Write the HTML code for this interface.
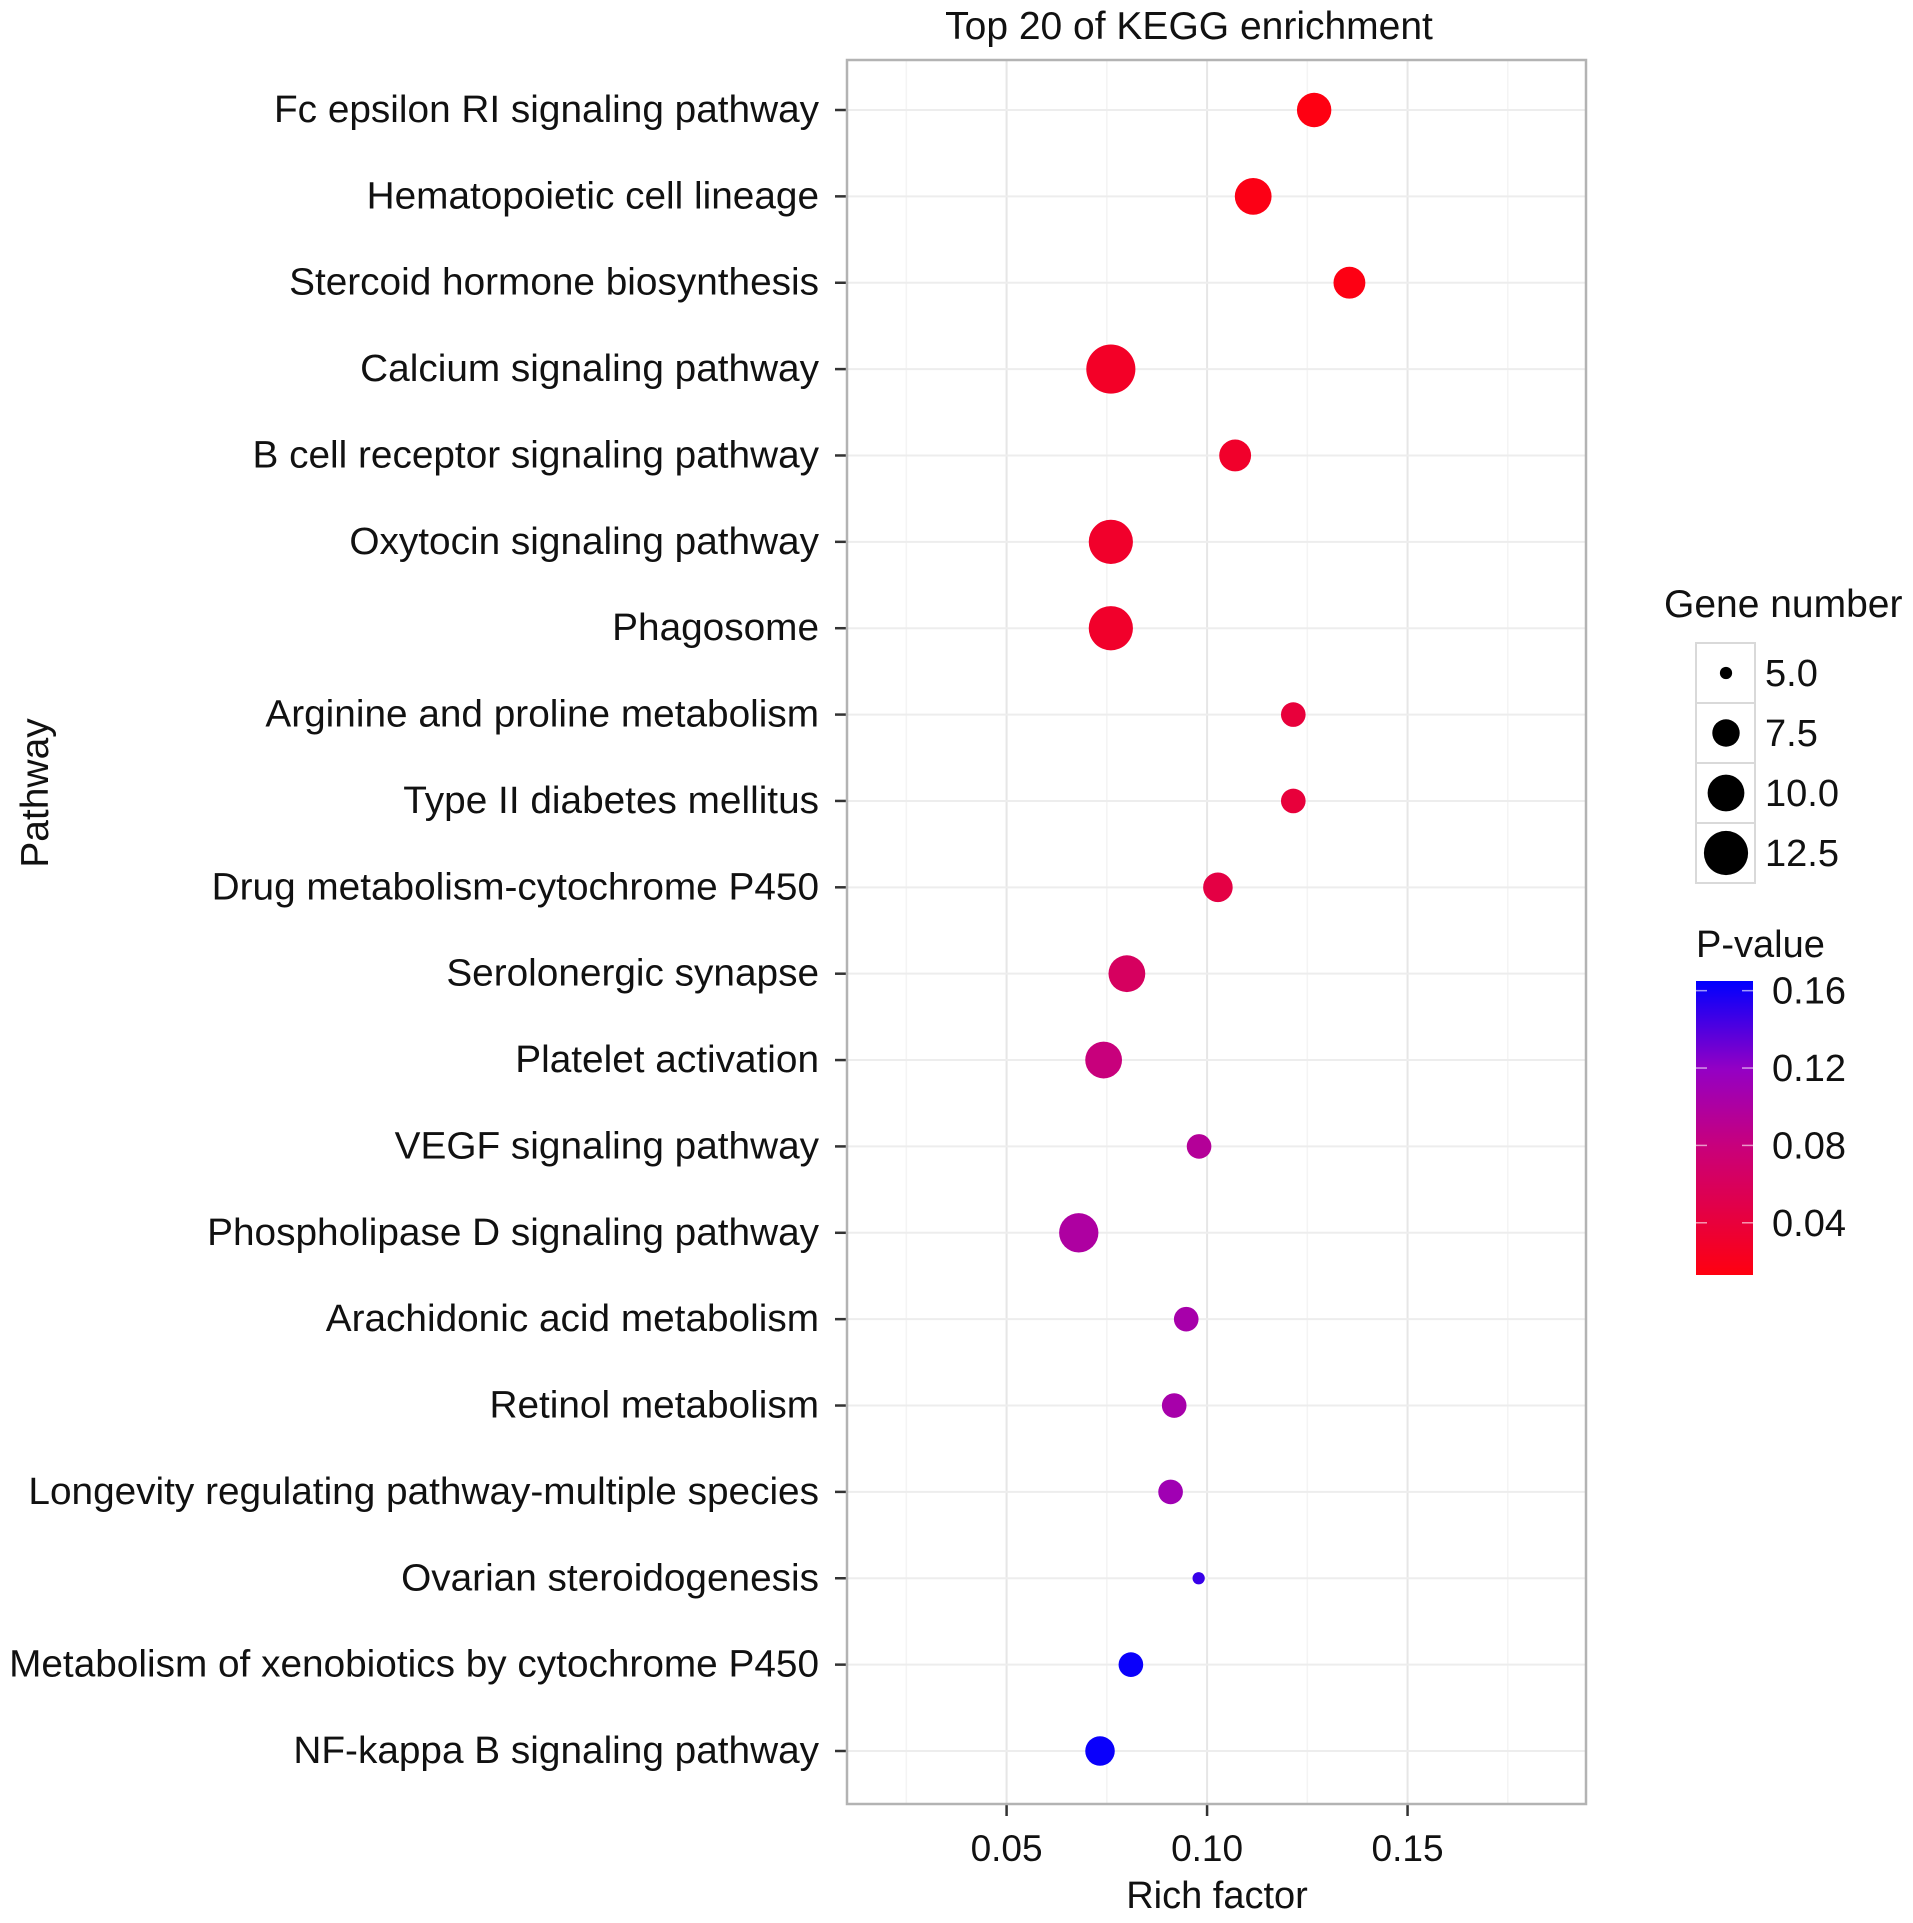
<!DOCTYPE html>
<html><head><meta charset="utf-8"><style>
html,body{margin:0;padding:0;background:#fff;}
svg{display:block;font-family:"Liberation Sans",Arial,sans-serif;}
</style></head><body>
<svg id="chart" width="1913" height="1923" viewBox="0 0 1913 1923" xmlns="http://www.w3.org/2000/svg">
<defs>
<linearGradient id="pgrad" x1="0" y1="1" x2="0" y2="0">
<stop offset="0" stop-color="#ff0010"/>
<stop offset="0.18" stop-color="#e8003c"/>
<stop offset="0.44" stop-color="#c8007c"/>
<stop offset="0.70" stop-color="#9400c4"/>
<stop offset="1" stop-color="#0000ff"/>
</linearGradient>
</defs>
<text x="1189" y="39" font-size="39" text-anchor="middle" fill="#111">Top 20 of KEGG enrichment</text>
<g id="plot"></g>
<text transform="translate(48,793) rotate(-90)" font-size="39" text-anchor="middle" fill="#111">Pathway</text>
<text x="1217" y="1908" font-size="38" text-anchor="middle" fill="#111">Rich factor</text>
<g id="sizeleg">
<text x="1664" y="617" font-size="39" fill="#111">Gene number</text>
</g>
<g id="colleg">
<text x="1696" y="957" font-size="38" fill="#111">P-value</text>
<rect x="1696" y="981" width="57" height="294" fill="url(#pgrad)"/>
</g>
</svg>
<script>
const pathways=["Fc epsilon RI signaling pathway","Hematopoietic cell lineage","Stercoid hormone biosynthesis","Calcium signaling pathway","B cell receptor signaling pathway","Oxytocin signaling pathway","Phagosome","Arginine and proline metabolism","Type II diabetes mellitus","Drug metabolism-cytochrome P450","Serolonergic synapse","Platelet activation","VEGF signaling pathway","Phospholipase D signaling pathway","Arachidonic acid metabolism","Retinol metabolism","Longevity regulating pathway-multiple species","Ovarian steroidogenesis","Metabolism of xenobiotics by cytochrome P450","NF-kappa B signaling pathway"];
const richFactor=[0.1267,0.1115,0.1355,0.076,0.107,0.076,0.076,0.1215,0.1215,0.1027,0.080,0.0742,0.098,0.068,0.0948,0.0918,0.0909,0.0979,0.081,0.0733];
const geneNumber=[9.3,10,8.6,14.4,8.6,12.5,12.5,6.9,6.9,8,10,10,6.9,10.8,6.9,6.9,6.9,5,6.9,8];
const pValue=[0.014,0.016,0.015,0.027,0.03,0.03,0.03,0.04,0.04,0.045,0.062,0.08,0.095,0.1,0.105,0.105,0.11,0.148,0.162,0.162];
const xTicks=[0.05,0.10,0.15];
const xTickLabels=["0.05","0.10","0.15"];
const sizeBreaks=[5,7.5,10,12.5];
const sizeLabels=["5.0","7.5","10.0","12.5"];
const pBreaks=[0.04,0.08,0.12,0.16];
const pLabels=["0.04","0.08","0.12","0.16"];

const NS="http://www.w3.org/2000/svg";
const L=847,R=1586,T=60,B=1804;
const xMin=0.0102,xMax=0.1945;
const X=v=>L+(v-xMin)/(xMax-xMin)*(R-L);
const y0=110,y1=1751;
const Y=i=>y0+i*(y1-y0)/(pathways.length-1);
const rad=g=>1.226*Math.sqrt(Math.max(4,25+40*(g-5)));
const pMin=0.013,pMax=0.165;
const PY=p=>1275-(p-pMin)/(pMax-pMin)*294;
const stops=[[0,[255,0,16]],[0.18,[232,0,60]],[0.44,[200,0,124]],[0.70,[148,0,196]],[1,[0,0,255]]];
function col(p){let t=Math.min(1,Math.max(0,(p-pMin)/(pMax-pMin)));
 for(let k=1;k<stops.length;k++){if(t<=stops[k][0]){const a=stops[k-1],b=stops[k];const f=(t-a[0])/(b[0]-a[0]);
 const c=a[1].map((v,j)=>Math.round(v+(b[1][j]-v)*f));return `rgb(${c})`;}}return "rgb(0,0,255)";}
function mk(tag,attrs,parent){const e=document.createElementNS(NS,tag);for(const k in attrs)e.setAttribute(k,attrs[k]);parent.appendChild(e);return e;}
const plot=document.getElementById('plot');
mk('rect',{x:L,y:T,width:R-L,height:B-T,fill:'#fff'},plot);
for(let i=0;i<xTicks.length+1;i++){const v=xTicks[0]-0.025+i*0.05;if(X(v)>L&&X(v)<R){const g=mk('line',{x1:X(v),x2:X(v),y1:T,y2:B,stroke:'#f4f4f4','stroke-width':1.5},plot);

}}
xTicks.forEach((v,i)=>{const g=mk('line',{x1:X(v),x2:X(v),y1:T,y2:B,stroke:'#e6e6e6','stroke-width':2},plot);


const t=mk('line',{x1:X(v),x2:X(v),y1:B,y2:B+12,stroke:'#333','stroke-width':2.5},plot);


const lb=mk('text',{x:X(v),y:B+57,'font-size':37,'text-anchor':'middle',fill:'#111'},plot);lb.textContent=xTickLabels[i];

});
pathways.forEach((name,i)=>{const g=mk('line',{x1:L,x2:R,y1:Y(i),y2:Y(i),stroke:'#ededed','stroke-width':2},plot);


const t=mk('line',{x1:L-12,x2:L,y1:Y(i),y2:Y(i),stroke:'#333','stroke-width':2.5},plot);


const lb=mk('text',{x:0,y:0,'font-size':38,'text-anchor':'end',fill:'#111',transform:`translate(819,${Y(i)+12}) scale(1.02,1)`},plot);lb.textContent=name;

});
mk('rect',{x:L,y:T,width:R-L,height:B-T,fill:'none',stroke:'#b3b3b3','stroke-width':2.5},plot);
pathways.forEach((name,i)=>{const c=mk('circle',{cx:X(richFactor[i]),cy:Y(i),r:rad(geneNumber[i]),fill:col(pValue[i])},plot);

});
const sl=document.getElementById('sizeleg');
sizeBreaks.forEach((s,i)=>{const cy=673+i*60;
const k=mk('rect',{x:1696,y:cy-30,width:59,height:60,fill:'#fff',stroke:'#d9d9d9','stroke-width':2},sl);


const c=mk('circle',{cx:1726,cy:cy,r:rad(s),fill:'#000'},sl);


const t=mk('text',{x:1765,y:cy+13,'font-size':38,fill:'#111'},sl);t.textContent=sizeLabels[i];

});
const cl=document.getElementById('colleg');
pBreaks.forEach((p,i)=>{const y=PY(p);
mk('line',{x1:1696,x2:1707,y1:y,y2:y,stroke:'#fff','stroke-width':1.5,opacity:0.6},cl);
mk('line',{x1:1742,x2:1753,y1:y,y2:y,stroke:'#fff','stroke-width':1.5,opacity:0.6},cl);
const t=mk('text',{x:1772,y:y+13,'font-size':38,fill:'#111'},cl);t.textContent=pLabels[i];

});
</script>
</body></html>
